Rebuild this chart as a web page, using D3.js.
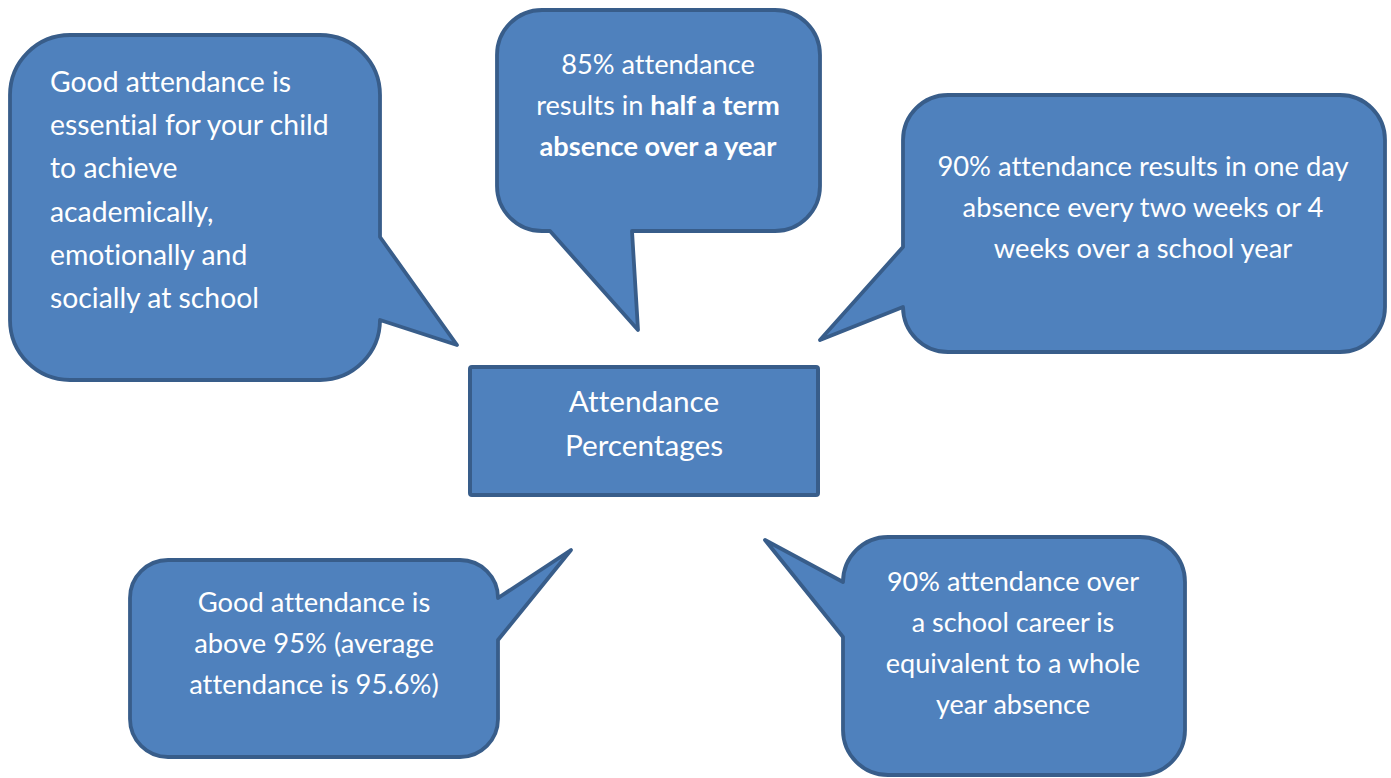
<!DOCTYPE html>
<html>
<head>
<meta charset="utf-8">
<script src="https://cdn.jsdelivr.net/npm/d3@7"></script>
<style>
  html, body { margin: 0; padding: 0; background: #ffffff; }
  svg { display: block; }
  text { font-variant-ligatures: none; font-feature-settings: "liga" 0, "dlig" 0; }
</style>
</head>
<body>
<svg id="chart" width="1391" height="778"></svg>
<script>
// ---- content (text only) ----
const bubbleIds = ["essential", "halfTerm", "oneDay", "goodAbove", "career"];
const bubbleLines = [
  [["Good attendance is"], ["essential for your child"], ["to achieve"], ["academically,"], ["emotionally and"], ["socially at school"]],
  [["85% attendance"], ["results in ", "half a term"], ["", "absence over a year"]],
  [["90% attendance results in one day"], ["absence every two weeks or 4"], ["weeks over a school year"]],
  [["Good attendance is"], ["above 95% (average"], ["attendance is 95.6%)"]],
  [["90% attendance over"], ["a school career is"], ["equivalent to a whole"], ["year absence"]]
];
const centreLines = ["Attendance", "Percentages"];

// ---- layout (positions, sizes, styles) ----
const layout = {
  essential: { box: [10, 35, 380, 380], r: 60, tail: { side: "right", a: 237, b: 322, tip: [457, 345] },
               anchor: "start", tx: 50, ty: 92, lh: 43.2, fs: 1.0 },
  halfTerm:  { box: [497, 10, 820, 231], r: 45, tail: { side: "bottom", a: 550, b: 632, tip: [638, 330] },
               anchor: "middle", tx: 658, ty: 74, lh: 40.8, fs: 0.96 },
  oneDay:    { box: [903, 95, 1385, 352], r: 45, tail: { side: "left", a: 247, b: 307, tip: [820, 340] },
               anchor: "middle", tx: 1143, ty: 176, lh: 40.8, fs: 0.965 },
  goodAbove: { box: [130, 560, 498, 757], r: 38, tail: { side: "right", a: 597, b: 640, tip: [571, 550] },
               anchor: "middle", tx: 314, ty: 612, lh: 41, fs: 0.965 },
  career:    { box: [843, 537, 1185, 775], r: 45, tail: { side: "left", a: 582, b: 637, tip: [765, 540] },
               anchor: "middle", tx: 1013, ty: 591, lh: 41, fs: 0.955 }
};
const centreBox = [470, 367, 818, 495];
const centreText = { tx: 644, ty: 412, lh: 44, fs: 1.05 };
const fillColor = "#4F81BD";
const strokeColor = "#385D8A";
const fontFamily = "Lato, 'Open Sans', sans-serif";

const svg = d3.select("#chart");

// calibrate font size so that "Good attendance is" spans ~241px (as Calibri in reference)
const probe = svg.append("text").attr("font-family", fontFamily).attr("font-size", 100).text("Good attendance is");
const probeW = probe.node().getComputedTextLength();
probe.remove();
const fontSize = Math.min(32, 100 * 241 / probeW);

function bubblePath(L) {
  const [x0, y0, x1, y1] = L.box, r = L.r, t = L.tail;
  const p = d3.path();
  p.moveTo(x0 + r, y0);
  p.lineTo(x1 - r, y0);
  p.arcTo(x1, y0, x1, y0 + r, r);
  if (t.side === "right") {
    p.lineTo(x1, Math.max(t.a, y0 + r));
    p.lineTo(t.tip[0], t.tip[1]);
    p.lineTo(x1, Math.min(t.b, y1 - r));
  }
  p.lineTo(x1, y1 - r);
  p.arcTo(x1, y1, x1 - r, y1, r);
  if (t.side === "bottom") {
    p.lineTo(Math.min(t.b, x1 - r), y1);
    p.lineTo(t.tip[0], t.tip[1]);
    p.lineTo(Math.max(t.a, x0 + r), y1);
  }
  p.lineTo(x0 + r, y1);
  p.arcTo(x0, y1, x0, y1 - r, r);
  if (t.side === "left") {
    p.lineTo(x0, Math.min(t.b, y1 - r));
    p.lineTo(t.tip[0], t.tip[1]);
    p.lineTo(x0, Math.max(t.a, y0 + r));
  }
  p.lineTo(x0, y0 + r);
  p.arcTo(x0, y0, x0 + r, y0, r);
  p.closePath();
  return p.toString();
}

const bubbles = bubbleIds.map((id, i) => ({ id, lines: bubbleLines[i], L: layout[id] }));

const g = svg.selectAll("g.bubble").data(bubbles).join("g").attr("class", "bubble");
g.append("path")
  .attr("d", d => bubblePath(d.L))
  .attr("fill", fillColor)
  .attr("stroke", strokeColor)
  .attr("stroke-width", 3.8)
  .attr("stroke-linejoin", "round");

g.each(function (d) {
  const txt = d3.select(this).append("text")
    .attr("font-family", fontFamily)
    .attr("font-size", fontSize * d.L.fs)
    .attr("fill", "#ffffff")
    .attr("text-anchor", d.L.anchor);
  d.lines.forEach((parts, li) => {
    const line = txt.append("tspan").attr("x", d.L.tx).attr("y", d.L.ty + li * d.L.lh);
    parts.forEach((s, pi) => {
      if (s === "") return;
      line.append("tspan").attr("font-weight", pi === 1 ? 700 : 400).text(s);
    });
  });
});

// centre box
svg.append("rect")
  .attr("x", centreBox[0]).attr("y", centreBox[1])
  .attr("width", centreBox[2] - centreBox[0]).attr("height", centreBox[3] - centreBox[1])
  .attr("rx", 2)
  .attr("fill", fillColor).attr("stroke", strokeColor).attr("stroke-width", 4);
svg.append("text")
  .attr("font-family", fontFamily).attr("font-size", fontSize * centreText.fs)
  .attr("fill", "#ffffff").attr("text-anchor", "middle")
  .selectAll("tspan").data(centreLines).join("tspan")
  .attr("x", centreText.tx)
  .attr("y", (d, i) => centreText.ty + i * centreText.lh)
  .text(d => d);
</script>
</body>
</html>
